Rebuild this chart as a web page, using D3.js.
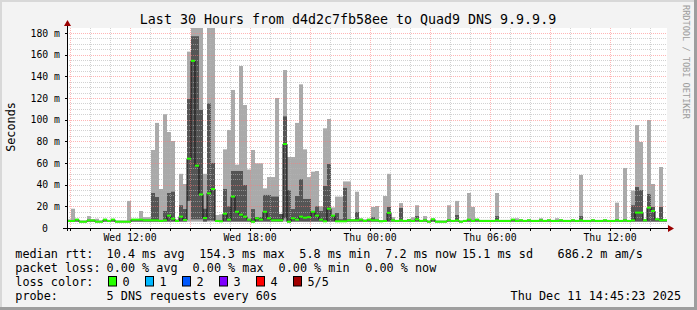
<!DOCTYPE html>
<html>
<head>
<meta charset="utf-8">
<title>Last 30 Hours - Quad9 DNS</title>
<script src="https://cdn.jsdelivr.net/npm/d3@7"></script>
<style>
    body { margin: 0; background: #f3f3f3; }
    svg text { font-family: "DejaVu Sans Mono", monospace; white-space: pre; }
</style>
</head>
<body>
<svg id="chart" width="697" height="310"></svg>
<script>
// ---- data (12 minute bins, 150 of them, values in ms) ----
const titleText = "Last 30 Hours from d4d2c7fb58ee to Quad9 DNS 9.9.9.9";
const startTime = new Date(2025, 11, 10, 8, 51);
const endTime = new Date(2025, 11, 11, 14, 51);
const binMinutes = 12;

const median = [
    6.5, 6.5, 7.7, 5.8, 5.8, 7, 7, 5.8, 5.8, 7.7,
    6.5, 7.7, 5.8, 5.8, 5.8, 5.8, 7.7, 7.7, 7.7, 7.1,
    7.1, 7.1, 7.1, 6.5, 7.1, 11.4, 8.6, 6.5, 10.5, 7.4,
    64, 154.3, 57.5, 31, 9.2, 32, 36, 6.5, 6.2, 13.2,
    7.7, 29, 15, 12.3, 10.5, 7.7, 5.8, 9, 7.7, 15,
    9, 7.1, 7.1, 7.1, 77.5, 5.8, 9, 7.7, 10.5, 9.5,
    10, 15, 11.4, 7.7, 6.2, 17.8, 11.4, 6.2, 6.2, 6.2,
    7.1, 7.1, 7.1, 7.7, 6.5, 7.7, 7.1, 7.1, 6.2, 6.5,
    14, 7.1, 6.5, 7.1, 6.5, 7.1, 6.5, 8, 6.5, 7.1,
    5.8, 8, 5.8, 5.8, 5.8, 7.1, 6.5, 7.1, 5.8, 6.5,
    7.7, 6.5, 7.7, 6.5, 6.5, 6.5, 6.5, 7.1, 6.5, 6.5,
    6.5, 7.7, 6.5, 7.1, 6.5, 7.1, 6.5, 6.5, 7.1, 6.5,
    7.1, 6.5, 6.5, 7.1, 6.5, 6.5, 7.1, 6.5, 7.1, 6.5,
    6.5, 7.1, 6.5, 6.5, 7.1, 6.5, 6.5, 7.1, 6.5, 7.1,
    6.5, 7.1, 14.2, 14.2, 7.1, 18.8, 15.7, 8, 7.1, 7.2
];

// slowest ping of the bin (top of light smoke)
const pingMax = [
    8, 17.8, 8.5, 7, 7, 11, 8, 8.6, 7, 8.5,
    7.5, 8.5, 7, 7, 7, 25, 8.5, 8.5, 15.7, 10,
    10, 72, 97, 36, 105, 88.6, 80.3, 8, 50, 40.6,
    162.8, 190, 190, 190, 50, 190, 190, 12, 12.6, 72.6,
    90.5, 127.4, 58.5, 149.5, 113.5, 54, 72, 59.7, 59.7, 36.6,
    47, 47, 120, 13, 145.8, 65.5, 65.5, 97, 132.6, 72.6,
    47, 52, 52.6, 20, 92, 100.6, 19, 29, 29, 43,
    43, 8, 33.5, 9, 8, 8.5, 19.4, 20.3, 7, 29.5,
    50, 10, 7.5, 23, 7.5, 8.3, 10, 21, 7.5, 11,
    7, 8.5, 7, 7, 7, 21, 7.5, 25, 7, 7.5,
    32.3, 19.4, 8.5, 7.5, 7.5, 7.5, 7.5, 32.3, 7.5, 7.5,
    7.5, 8.5, 9, 7.5, 7.5, 7.5, 7.5, 7.5, 9, 7.5,
    7.5, 7.5, 9, 7.5, 7.5, 7.5, 7.5, 7.5, 49, 7.5,
    7.5, 7.5, 7.5, 7.5, 7.5, 7.5, 7.5, 23.4, 7.5, 55.4,
    7.5, 34.5, 95, 79.4, 8, 99.7, 40.6, 9, 56.3, 7.5
];

// 4th of 5 pings (top of dark smoke)
const ping4 = [
    7, 7, 7.5, 6.5, 6.5, 7.5, 7.5, 6.5, 6.5, 7.5,
    7, 7.5, 6.5, 6.5, 6.5, 6.5, 7.5, 7.5, 7.5, 7.5,
    7.5, 32.3, 28.6, 7.5, 15.7, 32.3, 33.5, 7, 21, 17.5,
    119, 177, 177, 109, 17.8, 115, 60, 7, 7, 36,
    20, 52.6, 52.6, 52.6, 39.7, 8, 17.5, 10, 10, 30.5,
    30.5, 29, 29, 13, 103, 35, 17.5, 29.5, 45, 26.8,
    26.8, 15.7, 20, 15.7, 38.8, 59, 12, 13.8, 8, 37,
    8, 7.5, 14.8, 7.5, 7, 7.5, 10, 7.5, 6.5, 7,
    19.4, 7.5, 7, 18.5, 7, 7.5, 7, 11, 7, 7.5,
    6.5, 8, 6.5, 6.5, 6.5, 7.5, 7, 12, 6.5, 7,
    8, 7, 8, 7, 7, 7, 7, 11, 7, 7,
    7, 8, 7, 7.5, 7, 7.5, 7, 7, 7.5, 7,
    7.5, 7, 7, 7.5, 7, 7, 7.5, 7, 11, 7,
    7, 7.5, 7, 7, 7.5, 7, 7, 7.5, 7, 7.5,
    7, 21, 37.8, 35, 7.5, 31.4, 19.4, 8, 19.4, 7.5
];

// 2nd of 5 pings (bottom of dark smoke)
const ping2 = [
    6, 6, 6, 5.6, 5.6, 6, 6, 5.6, 5.6, 6,
    6, 6, 5.6, 5.6, 5.6, 5.6, 6, 6, 6, 6,
    6, 6, 6, 6, 6, 6, 6, 6, 6, 6,
    25, 8, 8, 8, 6, 7, 7, 6, 6, 6,
    6, 6, 6, 6, 6, 6, 5.6, 6, 6, 6,
    6, 6, 6, 6, 9, 5.6, 6, 6, 6, 6,
    6, 6, 6, 6, 6, 6, 6, 6, 6, 6,
    6, 6, 6, 6, 6, 6, 6, 6, 6, 6,
    6, 6, 6, 6, 6, 6, 6, 6, 6, 6,
    5.6, 6, 5.6, 5.6, 5.6, 6, 6, 6, 5.6, 6,
    6, 6, 6, 6, 6, 6, 6, 6, 6, 6,
    6, 6, 6, 6, 6, 6, 6, 6, 6, 6,
    6, 6, 6, 6, 6, 6, 6, 6, 6, 6,
    6, 6, 6, 6, 6, 6, 6, 6, 6, 6,
    6, 6, 6, 6, 6, 6, 6, 6, 6, 6
];

// fastest ping of the bin (bottom of light smoke)
const pingMin = [
    5.5, 5.5, 5.6, 5.3, 5.3, 5.5, 5.5, 5.3, 5.3, 5.6,
    5.5, 5.6, 5.3, 5.3, 5.3, 5.3, 5.6, 5.6, 5.6, 5.5,
    5.5, 5.5, 5.5, 5.5, 5.5, 5.6, 5.6, 5.5, 5.6, 5.5,
    5.8, 5.8, 5.8, 5.8, 5.6, 5.8, 5.8, 5.5, 5.5, 5.6,
    5.5, 5.6, 5.6, 5.6, 5.6, 5.5, 5.3, 5.5, 5.5, 5.6,
    5.5, 5.5, 5.5, 5.5, 5.8, 5.3, 5.5, 5.5, 5.6, 5.5,
    5.5, 5.6, 5.6, 5.5, 5.5, 5.6, 5.6, 5.5, 5.5, 5.5,
    5.5, 5.5, 5.5, 5.5, 5.5, 5.5, 5.5, 5.5, 5.5, 5.5,
    5.6, 5.5, 5.5, 5.5, 5.5, 5.5, 5.5, 5.5, 5.5, 5.5,
    5.3, 5.5, 5.3, 5.3, 5.3, 5.5, 5.5, 5.5, 5.3, 5.5,
    5.5, 5.5, 5.5, 5.5, 5.5, 5.5, 5.5, 5.5, 5.5, 5.5,
    5.5, 5.5, 5.5, 5.5, 5.5, 5.5, 5.5, 5.5, 5.5, 5.5,
    5.5, 5.5, 5.5, 5.5, 5.5, 5.5, 5.5, 5.5, 5.5, 5.5,
    5.5, 5.5, 5.5, 5.5, 5.5, 5.5, 5.5, 5.5, 5.5, 5.5,
    5.5, 5.5, 5.6, 5.6, 5.5, 5.6, 5.6, 5.5, 5.5, 5.5
];

const yLabelValues = [0, 20, 40, 60, 80, 100, 120, 140, 160, 180];
const medianLabel = "median rtt:";
const medianStats = ["10.4 ms avg", "154.3 ms max", "5.8 ms min", "7.2 ms now", "15.1 ms sd", "686.2 m am/s"];
const lossLabel = "packet loss:";
const lossStats = ["0.00 % avg", "0.00 % max", "0.00 % min", "0.00 % now"];
const lossColorLabel = "loss color:";
const lossNames = ["0", "1", "2", "3", "4", "5/5"];
const lossColors = ["#26ff00", "#00b8ff", "#0059ff", "#7e00ff", "#ff0000", "#a10000"];
const probeLabel = "probe:";
const probeText = "5 DNS requests every 60s";
const dateText = "Thu Dec 11 14:45:23 2025";
const creditText = "RRDTOOL / TOBI OETIKER";

// ---- layout ----
const W = 697, H = 310;
const plotLeft = 67, plotRight = 667, plotTop = 28, plotBottom = 228;
const medianStatX = [106.6, 199.3, 299.3, 385.3, 462, 557.6];
const lossStatX = [106.6, 192.6, 278.6, 365.3];
const legendRowY = [258, 272, 286, 300];

const svg = d3.select("#chart");

const x = d3.scaleTime().domain([startTime, endTime]).range([plotLeft, plotRight]);
const y = d3.scaleLinear().domain([0, 184.6]).range([plotBottom, plotTop]);
const binTime = i => d3.timeMinute.offset(startTime, i * binMinutes);

// background + frame
svg.append("rect").attr("width", W).attr("height", H).attr("fill", "#f3f3f3");
svg.append("rect").attr("x", 0).attr("y", 0).attr("width", W).attr("height", 2).attr("fill", "#d8d8d8");
svg.append("rect").attr("x", 0).attr("y", 0).attr("width", 2).attr("height", H).attr("fill", "#d8d8d8");
svg.append("rect").attr("x", W - 3).attr("y", 0).attr("width", 3).attr("height", H).attr("fill", "#9e9e9e");
svg.append("rect").attr("x", 0).attr("y", H - 3).attr("width", W).attr("height", 3).attr("fill", "#9e9e9e");

// canvas
svg.append("rect")
    .attr("x", plotLeft).attr("y", plotTop)
    .attr("width", plotRight - plotLeft).attr("height", plotBottom - plotTop)
    .attr("fill", "#ffffff");

svg.append("clipPath").attr("id", "plotClip")
    .append("rect")
    .attr("x", plotLeft).attr("y", plotTop)
    .attr("width", plotRight - plotLeft).attr("height", plotBottom - plotTop);

const bins = d3.range(median.length);
const smoke = svg.append("g").attr("clip-path", "url(#plotClip)");

// light smoke: min..max
smoke.selectAll("rect.light")
    .data(bins)
    .enter()
    .append("rect")
    .attr("class", "light")
    .attr("x", i => x(binTime(i)))
    .attr("width", i => x(binTime(i + 1)) - x(binTime(i)))
    .attr("y", i => y(pingMax[i]))
    .attr("height", i => y(pingMin[i]) - y(pingMax[i]))
    .attr("fill", "#aaaaaa");

// dark smoke: 2nd..4th ping
smoke.selectAll("rect.dark")
    .data(bins)
    .enter()
    .append("rect")
    .attr("class", "dark")
    .attr("x", i => x(binTime(i)))
    .attr("width", i => x(binTime(i + 1)) - x(binTime(i)))
    .attr("y", i => y(ping4[i]))
    .attr("height", i => Math.max(0, y(ping2[i]) - y(ping4[i])))
    .attr("fill", "#555555");

// grid
const grid = svg.append("g");
const minorY = d3.range(5, 185, 5).filter(v => v % 20 !== 0);
const majorY = d3.range(20, 185, 20);
const hours = x.ticks(d3.timeHour.every(1));

grid.selectAll("line.hminor")
    .data(minorY)
    .enter()
    .append("line")
    .attr("x1", plotLeft).attr("x2", plotRight)
    .attr("y1", v => Math.round(y(v)) + 0.5).attr("y2", v => Math.round(y(v)) + 0.5)
    .attr("stroke", "rgba(180,180,180,0.6)").attr("stroke-dasharray", "1,1");

grid.selectAll("line.vminor")
    .data(hours.filter(d => d.getHours() % 3 !== 0))
    .enter()
    .append("line")
    .attr("x1", d => Math.round(x(d)) + 0.5).attr("x2", d => Math.round(x(d)) + 0.5)
    .attr("y1", plotTop).attr("y2", plotBottom)
    .attr("stroke", "rgba(180,180,180,0.6)").attr("stroke-dasharray", "1,1");

grid.selectAll("line.hmajor")
    .data(majorY)
    .enter()
    .append("line")
    .attr("x1", plotLeft).attr("x2", plotRight)
    .attr("y1", v => Math.round(y(v)) + 0.5).attr("y2", v => Math.round(y(v)) + 0.5)
    .attr("stroke", "rgba(255,120,120,0.55)").attr("stroke-dasharray", "1,1");

grid.selectAll("line.vmajor")
    .data(hours.filter(d => d.getHours() % 3 === 0))
    .enter()
    .append("line")
    .attr("x1", d => Math.round(x(d)) + 0.5).attr("x2", d => Math.round(x(d)) + 0.5)
    .attr("y1", plotTop).attr("y2", plotBottom)
    .attr("stroke", "rgba(255,120,120,0.55)").attr("stroke-dasharray", "1,1");

// median: black step connectors, then green segments
const medLine = svg.append("g").attr("clip-path", "url(#plotClip)");
const stepPoints = bins.map(i => [x(binTime(i)), y(median[i])]);
stepPoints.push([x(binTime(median.length)), y(median[median.length - 1])]);
medLine.append("path")
    .attr("d", d3.line().curve(d3.curveStepAfter)(stepPoints))
    .attr("fill", "none")
    .attr("stroke", "#111111")
    .attr("stroke-width", 1);

medLine.selectAll("rect.med")
    .data(bins)
    .enter()
    .append("rect")
    .attr("class", "med")
    .attr("x", i => x(binTime(i)))
    .attr("width", i => x(binTime(i + 1)) - x(binTime(i)))
    .attr("y", i => y(median[i]) - 1)
    .attr("height", 2)
    .attr("fill", lossColors[0]);

// axes
const axes = svg.append("g");
axes.append("line")
    .attr("x1", plotLeft - 4).attr("x2", plotRight + 2)
    .attr("y1", plotBottom + 0.5).attr("y2", plotBottom + 0.5)
    .attr("stroke", "#000");
axes.append("line")
    .attr("x1", plotLeft + 0.5).attr("x2", plotLeft + 0.5)
    .attr("y1", plotBottom + 3).attr("y2", plotTop - 3)
    .attr("stroke", "#000");
axes.append("path")
    .attr("d", `M${plotRight + 1},${plotBottom - 3} L${plotRight + 7},${plotBottom + 0.5} L${plotRight + 1},${plotBottom + 4} Z`)
    .attr("fill", "#9a0000");
axes.append("path")
    .attr("d", `M${plotLeft - 3},${plotTop - 2} L${plotLeft + 0.5},${plotTop - 8} L${plotLeft + 4},${plotTop - 2} Z`)
    .attr("fill", "#9a0000");

// tick marks
axes.selectAll("line.ytick")
    .data(majorY)
    .enter()
    .append("line")
    .attr("x1", plotLeft - 2).attr("x2", plotLeft)
    .attr("y1", v => Math.round(y(v)) + 0.5).attr("y2", v => Math.round(y(v)) + 0.5)
    .attr("stroke", "#000");
axes.selectAll("line.xtick")
    .data(hours)
    .enter()
    .append("line")
    .attr("x1", d => Math.round(x(d)) + 0.5).attr("x2", d => Math.round(x(d)) + 0.5)
    .attr("y1", plotBottom + 1).attr("y2", plotBottom + 3)
    .attr("stroke", "#000");

// axis labels
const fmt = d3.timeFormat("%a %H:%M");
svg.selectAll("text.xlab")
    .data(x.ticks(d3.timeHour.every(6)))
    .enter()
    .append("text")
    .attr("x", d => x(d))
    .attr("y", 241)
    .attr("text-anchor", "middle")
    .attr("font-size", "9.8px")
    .attr("fill", "#000")
    .text(d => fmt(d));

svg.selectAll("text.ylab")
    .data(yLabelValues)
    .enter()
    .append("text")
    .attr("x", v => v === 0 ? 48 : 60)
    .attr("y", v => y(v) + 3.6)
    .attr("text-anchor", "end")
    .attr("font-size", "9.8px")
    .attr("fill", "#000")
    .text(v => v === 0 ? "0" : v + " m");

svg.append("text")
    .attr("transform", "translate(14.5,127) rotate(-90)")
    .attr("text-anchor", "middle")
    .attr("font-size", "11.8px")
    .text("Seconds");

svg.append("text")
    .attr("transform", "translate(683,5) rotate(90)")
    .attr("font-size", "8.6px")
    .attr("fill", "#9c9c9c")
    .text(creditText);

svg.append("text")
    .attr("x", 348)
    .attr("y", 24)
    .attr("text-anchor", "middle")
    .attr("font-size", "13.3px")
    .text(titleText);

// legend
const legend = svg.append("g").attr("font-size", "11.8px").attr("fill", "#000");
legend.append("text").attr("x", 15.3).attr("y", legendRowY[0]).text(medianLabel);
medianStats.forEach((s, i) => {
    legend.append("text").attr("x", medianStatX[i]).attr("y", legendRowY[0]).text(s);
});
legend.append("text").attr("x", 15.3).attr("y", legendRowY[1]).text(lossLabel);
lossStats.forEach((s, i) => {
    legend.append("text").attr("x", lossStatX[i]).attr("y", legendRowY[1]).text(s);
});
legend.append("text").attr("x", 15.3).attr("y", legendRowY[2]).text(lossColorLabel);
lossNames.forEach((s, i) => {
    const bx = 108.5 + i * 37;
    legend.append("rect")
        .attr("x", bx).attr("y", 276.5)
        .attr("width", 8).attr("height", 9.5)
        .attr("fill", lossColors[i])
        .attr("stroke", "#000").attr("stroke-width", 1);
    legend.append("text").attr("x", bx + 14).attr("y", legendRowY[2]).text(s);
});
legend.append("text").attr("x", 15.3).attr("y", legendRowY[3]).text(probeLabel);
legend.append("text").attr("x", 106.6).attr("y", legendRowY[3]).text(probeText);
legend.append("text").attr("x", 681).attr("y", legendRowY[3]).attr("text-anchor", "end").text(dateText);
</script>
</body>
</html>
